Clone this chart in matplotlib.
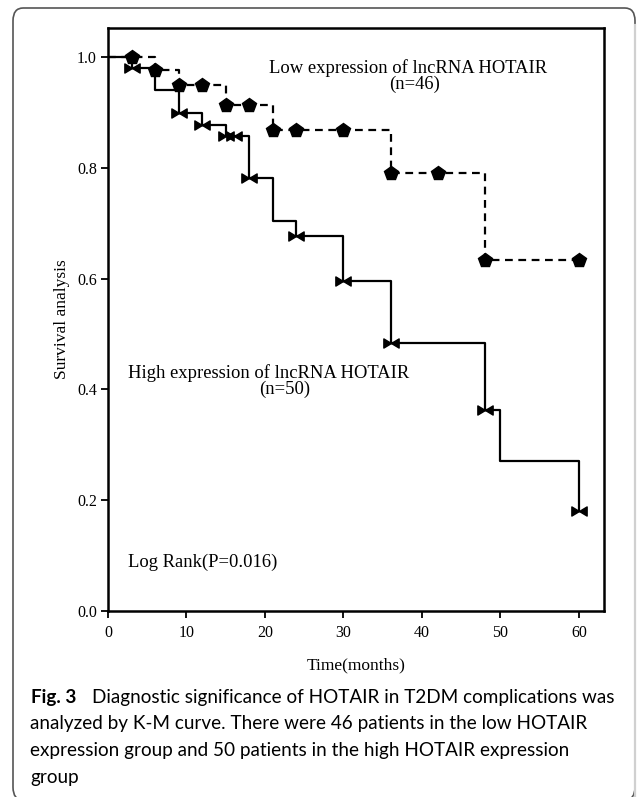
import numpy as np
import matplotlib
matplotlib.use("Agg")
from matplotlib import pyplot as plt
from matplotlib.path import Path
from matplotlib.patches import FancyBboxPatch
from matplotlib.lines import Line2D

# Kaplan-Meier step values
low_t = [0, 6, 9, 15, 21, 36, 48, 60]
low_s = [1.0, 0.976, 0.949, 0.913, 0.868, 0.790, 0.634, 0.634]
low_cens_t = [3, 6, 9, 12, 15, 18, 21, 24, 30, 36, 42, 48, 60]
low_cens_s = [1.0, 0.976, 0.949, 0.949, 0.913, 0.913, 0.868, 0.868, 0.868, 0.790, 0.790, 0.634, 0.634]

high_t = [0, 3, 6, 9, 12, 15, 18, 21, 24, 30, 36, 48, 50, 60, 60]
high_s = [1.0, 0.980, 0.940, 0.898, 0.877, 0.857, 0.781, 0.704, 0.677, 0.596, 0.484, 0.363, 0.271, 0.181, 0.181]
high_cens_t = [3, 9, 12, 15, 16, 18, 24, 30, 36, 48, 60]
high_cens_s = [0.980, 0.898, 0.877, 0.857, 0.857, 0.781, 0.677, 0.596, 0.484, 0.363, 0.181]

xticks = [0, 10, 20, 30, 40, 50, 60]
yticks = [0.0, 0.2, 0.4, 0.6, 0.8, 1.0]

caption = [
    "Diagnostic significance of HOTAIR in T2DM complications was",
    "analyzed by K-M curve. There were 46 patients in the low HOTAIR",
    "expression group and 50 patients in the high HOTAIR expression",
    "group",
]

W, H = 637, 797
serif = "Liberation Serif"

fig = plt.figure(figsize=(W / 100, H / 100), dpi=100)

def fx(px):
    return px / W

def fy(py):
    return 1 - py / H

ax = fig.add_axes([fx(108), fy(611), fx(604) - fx(108), fy(28) - fy(611)])

bowtie = Path(
    [(-1, -0.6), (0, 0), (-1, 0.6), (-1, -0.6), (1, -0.6), (0, 0), (1, 0.6), (1, -0.6)],
    [Path.MOVETO, Path.LINETO, Path.LINETO, Path.CLOSEPOLY,
     Path.MOVETO, Path.LINETO, Path.LINETO, Path.CLOSEPOLY],
)

ax.step(high_t, high_s, where="post", color="black", lw=1.6)
ax.plot(high_cens_t, high_cens_s, ls="none", marker=bowtie, ms=11, color="black")

ax.step(low_t, low_s, where="post", color="black", lw=1.6, dashes=(3.5, 2.5))
ax.plot(low_cens_t, low_cens_s, ls="none", marker="p", ms=10, color="black")

ax.set_xlim(0, 63.2)
ax.set_ylim(0, 1.0523)
ax.set_xticks(xticks)
ax.set_yticks(yticks)
ax.set_xticklabels([str(v) for v in xticks], family=serif, fontsize=11.5)
ax.set_yticklabels([f"{v:.1f}" for v in yticks], family=serif, fontsize=11.5)
ax.tick_params(direction="out", length=5, width=1.3)
ax.tick_params(axis="x", pad=5)
ax.tick_params(axis="y", pad=3)
for sp in ax.spines.values():
    sp.set_linewidth(1.8)

ax.set_xlabel("Time(months)", family=serif, fontsize=12.5, labelpad=12)
ax.set_ylabel("Survival analysis", family=serif, fontsize=12.5, labelpad=5)

fig.text(fx(408), fy(68), "Low expression of lncRNA HOTAIR", family=serif, fontsize=13.4,
         ha="center", va="center")
fig.text(fx(415), fy(84), "(n=46)", family=serif, fontsize=13.4, ha="center", va="center")
fig.text(fx(269), fy(373), "High expression of lncRNA HOTAIR", family=serif, fontsize=13.4,
         ha="center", va="center")
fig.text(fx(285), fy(389), "(n=50)", family=serif, fontsize=13.4, ha="center", va="center")
fig.text(fx(128), fy(562), "Log Rank(P=0.016)", family=serif, fontsize=13.4,
         ha="left", va="center")

# caption
cap_size = 13.6
fig.text(fx(31), fy(697), "Fig. 3", family="Lato", weight="bold", fontsize=cap_size,
         ha="left", va="center")
fig.text(fx(92), fy(697), caption[0], family="Lato", fontsize=cap_size, ha="left", va="center")
for i, line in enumerate(caption[1:]):
    fig.text(fx(30), fy(724 + 26.6 * i), line, family="Lato", fontsize=cap_size,
             ha="left", va="center")

# rounded frame around the figure
frame = FancyBboxPatch((fx(13), fy(800)), fx(635) - fx(13), fy(8) - fy(800),
                       boxstyle="round,pad=0,rounding_size=0.016",
                       transform=fig.transFigure, fill=False, ec="#555555", lw=1.2)
fig.patches.append(frame)
fig.lines.append(Line2D([fx(635), fx(635)], [fy(25), 0], transform=fig.transFigure,
                        color="#d0d0d0", lw=1.6))

fig.savefig("out.png", dpi=100)
